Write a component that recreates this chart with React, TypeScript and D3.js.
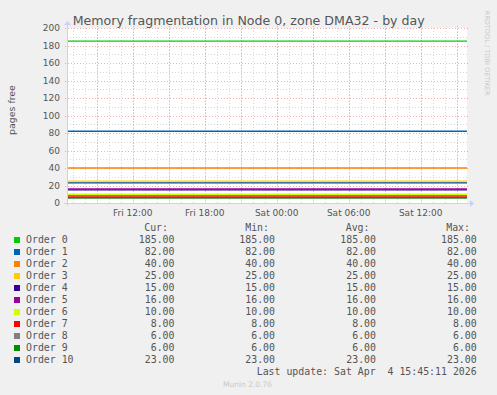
import React from "react";
import * as d3 from "d3";

const W = 497;
const H = 395;

const seriesNames = ["Order 0", "Order 1", "Order 2", "Order 3", "Order 4", "Order 5", "Order 6", "Order 7", "Order 8", "Order 9", "Order 10"];
const seriesColors = ["#00CC00", "#0066B3", "#FF8000", "#FFCC00", "#330099", "#990099", "#CCFF00", "#FF0000", "#808080", "#008F00", "#00487D"];
const curValues = [185, 82, 40, 25, 15, 16, 10, 8, 6, 6, 23];
const minValues = [185, 82, 40, 25, 15, 16, 10, 8, 6, 6, 23];
const avgValues = [185, 82, 40, 25, 15, 16, 10, 8, 6, 6, 23];
const maxValues = [185, 82, 40, 25, 15, 16, 10, 8, 6, 6, 23];
const yTicks = [0, 20, 40, 60, 80, 100, 120, 140, 160, 180, 200];
const yMinorTicks = [10, 30, 50, 70, 90, 110, 130, 150, 170, 190];
const timeStart = Date.UTC(2026, 3, 3, 6, 31, 30);
const timeEnd = Date.UTC(2026, 3, 4, 15, 51, 30);
const title = "Memory fragmentation in Node 0, zone DMA32 - by day";
const yLabel = "pages free";
const lastUpdate = "Last update: Sat Apr  4 15:45:11 2026";

const PL = 67, PR = 467, PT = 28, PB = 203;
const TXT = "#555555";
const MONO = "'DejaVu Sans Mono', monospace";
const SANS = "'DejaVu Sans', sans-serif";

export default function App() {
  const x = d3.scaleUtc().domain([new Date(timeStart), new Date(timeEnd)]).range([PL, PR]);
  const y = d3.scaleLinear().domain([0, 200]).range([PB, PT]);
  const minorX = d3.utcHour.every(1)!.range(new Date(timeStart), new Date(timeEnd));
  const majorX = d3.utcHour.every(3)!.range(new Date(timeStart), new Date(timeEnd));
  const labelX = d3.utcHour.every(6)!.range(new Date(timeStart), new Date(timeEnd));
  const fmt = d3.utcFormat("%a %H:%M");
  const line = d3.line<[Date, number]>().x((d) => x(d[0])).y((d) => y(d[1]));
  const fmtV = (v: number) => v.toFixed(2);
  const axisCol = "#CBD0F5";
  const minorCol = "rgba(128,128,128,0.3)";
  const majorCol = "rgba(230,60,60,0.4)";

  return (
    <svg width={W} height={H} style={{ position: "absolute", left: 0, top: 0, display: "block" }}>
      <rect x={0} y={0} width={W} height={H} fill="#F0F0F0" />
      <rect x={PL} y={PT} width={PR - PL} height={PB - PT} fill="#FFFFFF" />
      {/* grid */}
      <g shapeRendering="crispEdges" strokeDasharray="1,2" strokeWidth={1}>
        {yMinorTicks.map((v) => (
          <line key={"ym" + v} x1={PL} x2={PR} y1={Math.round(y(v)) + 0.5} y2={Math.round(y(v)) + 0.5} stroke={minorCol} />
        ))}
        {minorX.map((t, i) => (
          <line key={"xm" + i} x1={Math.round(x(t)) + 0.5} x2={Math.round(x(t)) + 0.5} y1={PT} y2={PB} stroke={minorCol} />
        ))}
        {yTicks.map((v) => (
          <line key={"yM" + v} x1={PL - 2} x2={PR + 2} y1={Math.round(y(v)) + 0.5} y2={Math.round(y(v)) + 0.5} stroke={majorCol} />
        ))}
        {majorX.map((t, i) => (
          <line key={"xM" + i} x1={Math.round(x(t)) + 0.5} x2={Math.round(x(t)) + 0.5} y1={PT - 2} y2={PB + 2} stroke={majorCol} />
        ))}
      </g>
      {/* series */}
      {curValues.map((v, i) => (
        <path
          key={"s" + i}
          d={line([[new Date(timeStart), v], [new Date(timeEnd), v]]) || ""}
          stroke={seriesColors[i]}
          strokeWidth={1.3}
          fill="none"
        />
      ))}
      {/* axes */}
      <line x1={PL - 3} x2={PR + 3} y1={PB + 0.5} y2={PB + 0.5} stroke={axisCol} />
      <path d={`M${PR + 3},${PB - 3} L${PR + 7},${PB + 0.5} L${PR + 3},${PB + 4} Z`} fill={axisCol} />
      <line x1={PL + 0.5} x2={PL + 0.5} y1={PB + 3} y2={PT - 3} stroke={axisCol} />
      <path d={`M${PL - 3},${PT - 3} L${PL + 0.5},${PT - 7} L${PL + 4},${PT - 3} Z`} fill={axisCol} />
      {/* y tick labels */}
      {yTicks.map((v) => (
        <text key={"yl" + v} x={PL - 7} y={y(v) + 3.3} textAnchor="end" fontFamily={SANS} fontSize={9} fill={TXT}>
          {v}
        </text>
      ))}
      {labelX.map((t, i) => (
        <text key={"xl" + i} x={x(t)} y={216} textAnchor="middle" fontFamily={SANS} fontSize={9} fill={TXT}>
          {fmt(t)}
        </text>
      ))}
      <text x={248.7} y={25} textAnchor="middle" fontFamily={SANS} fontSize={12.6} fill={TXT}>
        {title}
      </text>
      <text transform="translate(15,110) rotate(-90)" textAnchor="middle" fontFamily={SANS} fontSize={9.4} fill={TXT}>
        {yLabel}
      </text>
      <text transform="translate(485,53) rotate(90)" textAnchor="middle" fontFamily={SANS} fontSize={6.6} fill="#C8C8C8">
        RRDTOOL / TOBI OETIKER
      </text>
      {/* legend */}
      <g fontFamily={MONO} fontSize={9.9} fill={TXT}>
        <text x={168} y={231} textAnchor="end">Cur:</text>
        <text x={269} y={231} textAnchor="end">Min:</text>
        <text x={369.5} y={231} textAnchor="end">Avg:</text>
        <text x={470} y={231} textAnchor="end">Max:</text>
        {seriesNames.map((n, i) => (
          <g key={"lg" + i}>
            <rect x={14} y={237 + i * 12} width={6} height={6} fill={seriesColors[i]} />
            <text x={26} y={243 + i * 12}>{n}</text>
            <text x={174.5} y={243 + i * 12} textAnchor="end">{fmtV(curValues[i])}</text>
            <text x={275} y={243 + i * 12} textAnchor="end">{fmtV(minValues[i])}</text>
            <text x={376} y={243 + i * 12} textAnchor="end">{fmtV(avgValues[i])}</text>
            <text x={476.7} y={243 + i * 12} textAnchor="end">{fmtV(maxValues[i])}</text>
          </g>
        ))}
        <text x={476.7} y={375} textAnchor="end" xmlSpace="preserve" style={{ whiteSpace: "pre" }}>{lastUpdate}</text>
      </g>
      <text x={247.5} y={387} textAnchor="middle" fontFamily={SANS} fontSize={7.5} fill="#C8C8C8">
        Munin 2.0.76
      </text>
    </svg>
  );
}
